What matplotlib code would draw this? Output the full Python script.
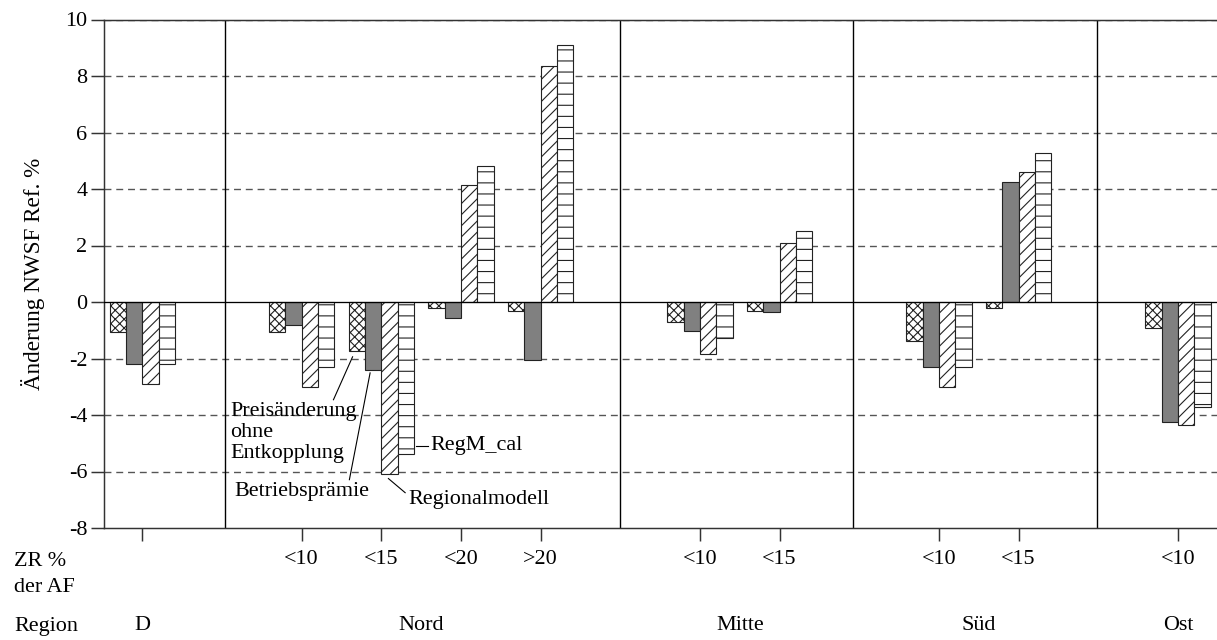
import matplotlib.pyplot as plt
import matplotlib.transforms as mtransforms
import numpy as np

# Regions and their ZR classes (share of ZR in AF)
regions = ['D', 'Nord', 'Mitte', 'Süd', 'Ost']
zr_classes = [[''], ['<10', '<15', '<20', '>20'], ['<10', '<15'], ['<10', '<15'], ['<10']]

# Change of NWSF relative to reference, %
preis = [-1.05, -1.05, -1.72, -0.22, -0.33, -0.70, -0.33, -1.38, -0.20, -0.93]
betrieb = [-2.20, -0.80, -2.40, -0.57, -2.05, -1.03, -0.35, -2.30, 4.25, -4.25]
regional = [-2.90, -3.00, -6.08, 4.13, 8.37, -1.84, 2.08, -3.00, 4.60, -4.37]
regm_cal = [-2.20, -2.30, -5.37, 4.82, 9.08, -1.27, 2.50, -2.30, 5.27, -3.70]

plt.rcParams['font.family'] = ['Liberation Serif', 'DejaVu Serif']
plt.rcParams['hatch.linewidth'] = 0.6
plt.rcParams['axes.unicode_minus'] = False

DPI = 133
fig = plt.figure(figsize=(1217 / DPI, 640 / DPI), dpi=DPI)
ax = fig.add_axes([104 / 1217, 1 - 528 / 640, 1 - 104 / 1217, (528 - 19.5) / 640])

# slot positions: one slot per ZR class, one empty slot between regions
pos, labels, region_x = [], [], []
x = 0
for name, classes in zip(regions, zr_classes):
    start = x
    for c in classes:
        pos.append(x)
        labels.append(c)
        x += 1
    region_x.append((start + x - 1) / 2)
    x += 1
pos = np.array(pos, dtype=float)

# separators between the regions
dividers = [1.04, 6.0, 8.92, 11.99]

w = 0.205
series = [
    (preis, dict(facecolor='white', hatch='xxxxx')),
    (betrieb, dict(facecolor='#808080', hatch=None)),
    (regional, dict(facecolor='white', hatch='////')),
    (regm_cal, dict(facecolor='white', hatch='--')),
]
for i, (vals, style) in enumerate(series):
    ax.bar(pos + (i - 1.5) * w, vals, width=w, edgecolor='#222222',
           linewidth=0.6, zorder=3, **style)

ax.set_xlim(-0.48, 13.49)
ax.set_ylim(-8, 10)
ax.set_yticks(np.arange(-8, 11, 2))
ax.set_xticks(pos)
ax.set_xticklabels(labels, fontsize=12)
ax.tick_params(axis='y', labelsize=12, length=7, width=0.8, pad=2, color='#333333')
ax.tick_params(axis='x', length=7, width=0.8, pad=5, color='#333333')

for y in range(-6, 11, 2):
    if y != 0:
        ax.axhline(y, color='#555555', lw=0.75, ls=(0, (5, 3.5)), zorder=1)
ax.axhline(0, color='black', lw=0.7, zorder=4)
for d in dividers:
    ax.axvline(d, color='black', lw=0.75, zorder=2)

for side in ['left', 'bottom', 'top']:
    ax.spines[side].set_color('#333333')
    ax.spines[side].set_linewidth(0.8)
ax.spines['right'].set_visible(False)

ax.set_ylabel('Änderung NWSF Ref. %', fontsize=12.5, labelpad=11)

# labels below the axis
fig.text(14 / 1217, 1 - 561 / 640, 'ZR %', fontsize=12, va='center', ha='left')
fig.text(14 / 1217, 1 - 588 / 640, 'der AF', fontsize=12, va='center', ha='left')
fig.text(14 / 1217, 1 - 626 / 640, 'Region', fontsize=12, va='center', ha='left')
trans = mtransforms.blended_transform_factory(ax.transData, fig.transFigure)
for rx, name in zip(region_x, regions):
    ax.text(rx, 1 - 626 / 640, name, fontsize=12, ha='center', va='center',
            transform=trans)

# series labels with leader lines
def leader(x0, y0, x1, y1):
    ax.plot([x0, x1], [y0, y1], color='black', lw=0.6, zorder=5, clip_on=False)

ax.text(1.106, -4.63, 'Preisänderung\nohne\nEntkopplung', fontsize=12,
        ha='left', va='center', linespacing=1.13)
leader(2.40, -3.46, 2.64, -1.94)
ax.text(2.0, -6.71, 'Betriebsprämie', fontsize=12, ha='center', va='center')
leader(2.60, -6.29, 2.86, -2.51)
ax.text(3.34, -7.0, 'Regionalmodell', fontsize=12, ha='left', va='center')
leader(3.09, -6.25, 3.30, -6.75)
ax.text(3.62, -5.09, 'RegM_cal', fontsize=12, ha='left', va='center')
leader(3.43, -5.09, 3.59, -5.09)

fig.savefig('out.png', dpi=DPI)
